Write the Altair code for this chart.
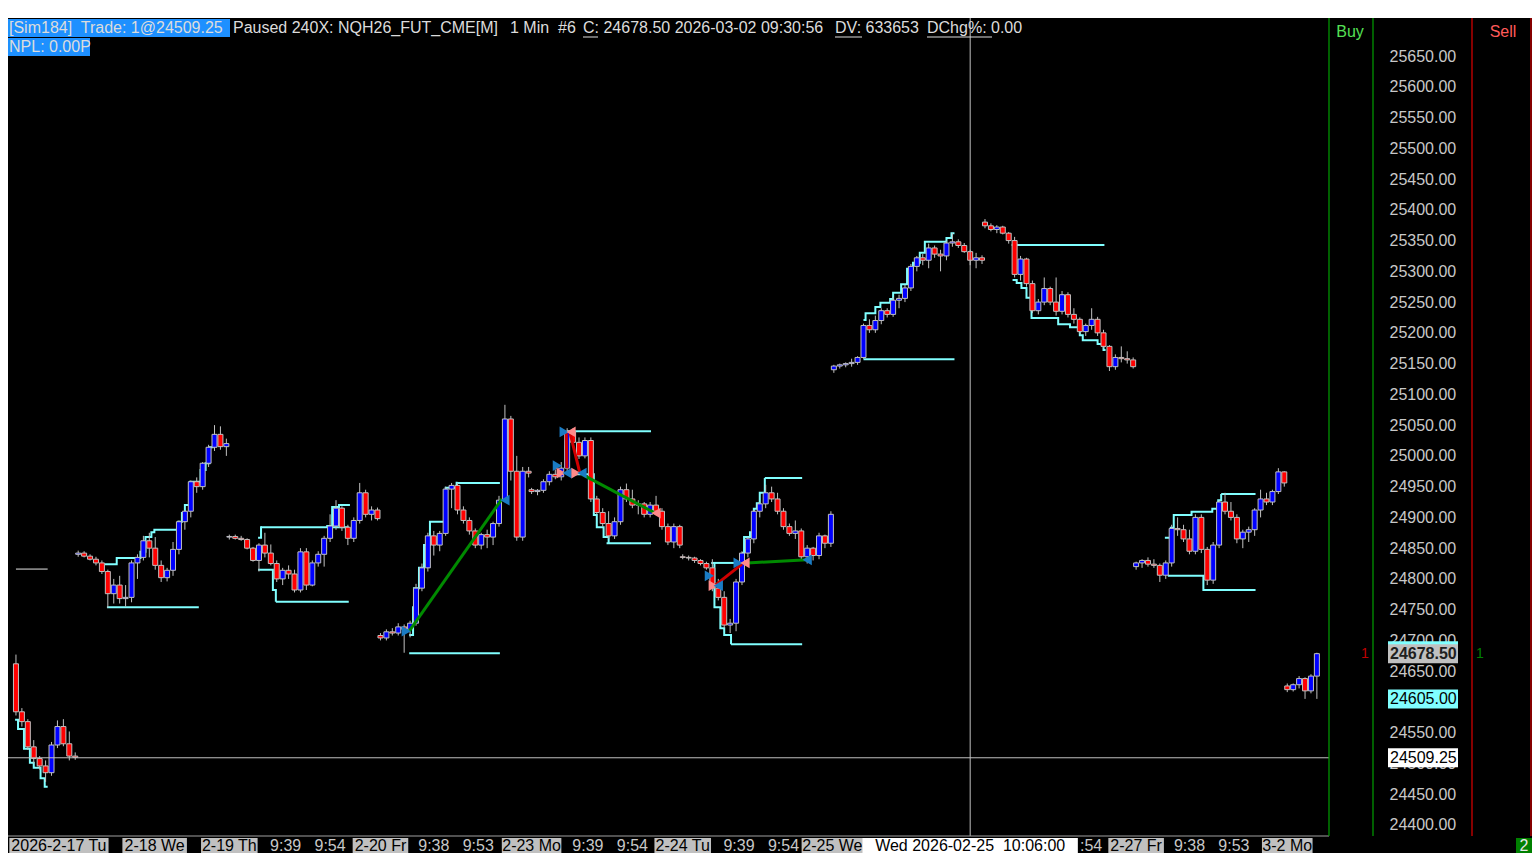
import altair as alt
import numpy as np
import pandas as pd

FONT = "Liberation Sans"

# ---------------- values ----------------
# 2-minute bars, x = minute index of the bar (3 px per minute in the reference)
session_start = [2, 23, 74, 125, 176, 227, 278, 329, 380, 431]
session_open = [24662, 24840, 24868, 24708, 24945, 24836, 25140, 25380, 24820, 24626]

s1_close = [24584, 24568, 24527, 24508, 24496, 24485, 24530, 24560, 24532, 24512, 24510]
s1_high = [24677, 24590, 24572, 24538, 24512, 24505, 24535, 24570, 24572, 24552, 24518]
s1_low = [24578, 24560, 24522, 24500, 24490, 24470, 24480, 24525, 24528, 24505, 24506]

s2_close = [24842, 24837, 24832, 24826, 24812, 24776, 24790, 24768, 24770, 24826, 24835, 24862, 24850, 24822, 24802, 24814, 24848, 24893, 24910, 24958, 24950, 24988, 25014, 25035, 25015, 25020]
s2_high = [24846, 24845, 24840, 24836, 24830, 24815, 24800, 24805, 24790, 24830, 24840, 24870, 24875, 24868, 24830, 24818, 24860, 24895, 24912, 24960, 24965, 24990, 25018, 25050, 25048, 25028]
s2_low = [24836, 24835, 24830, 24822, 24808, 24753, 24760, 24760, 24755, 24762, 24800, 24830, 24835, 24815, 24795, 24796, 24805, 24840, 24880, 24900, 24940, 24945, 24982, 25008, 25010, 25000]

s3_close = [24869, 24866, 24864, 24850, 24830, 24855, 24842, 24825, 24800, 24814, 24808, 24782, 24844, 24790, 24826, 24840, 24866, 24886, 24915, 24884, 24866, 24895, 24940, 24905, 24912, 24898]
s3_high = [24872, 24872, 24870, 24866, 24852, 24858, 24875, 24856, 24830, 24818, 24822, 24815, 24850, 24850, 24830, 24845, 24870, 24905, 24928, 24918, 24888, 24900, 24956, 24945, 24918, 24916]
s3_low = [24864, 24864, 24862, 24848, 24828, 24812, 24835, 24822, 24795, 24790, 24800, 24778, 24778, 24782, 24788, 24820, 24820, 24860, 24880, 24878, 24855, 24860, 24890, 24900, 24895, 24895]

s4_close = [24704, 24714, 24712, 24722, 24718, 24728, 24785, 24818, 24870, 24855, 24874, 24946, 24952, 24912, 24895, 24878, 24855, 24872, 24868, 24890, 24928, 25060, 24975, 24868, 24975, 24972]
s4_high = [24712, 24718, 24720, 24728, 24726, 24732, 24792, 24825, 24875, 24878, 24878, 24950, 24956, 24956, 24918, 24900, 24882, 24875, 24880, 24893, 24935, 25083, 25065, 25000, 24982, 24982]
s4_low = [24700, 24700, 24708, 24708, 24680, 24705, 24724, 24780, 24812, 24838, 24845, 24870, 24915, 24905, 24890, 24872, 24850, 24848, 24850, 24855, 24885, 24925, 24960, 24862, 24862, 24965]

s5_close = [24942, 24944, 24958, 24970, 24966, 24980, 25040, 25022, 25000, 25025, 24930, 24908, 24890, 24870, 24893, 24945, 24930, 24920, 24922, 24905, 24920, 24910, 24885, 24860, 24885, 24855]
s5_high = [24948, 24946, 24962, 24975, 24978, 24990, 25045, 25045, 25030, 25030, 25030, 24935, 24915, 24910, 24900, 24950, 24955, 24945, 24928, 24925, 24925, 24935, 24915, 24890, 24890, 24888]
s5_low = [24938, 24936, 24940, 24952, 24962, 24960, 24975, 25015, 24995, 24996, 24925, 24905, 24885, 24865, 24865, 24888, 24925, 24915, 24905, 24900, 24900, 24905, 24880, 24855, 24850, 24850]

s6_close = [24835, 24834, 24830, 24825, 24818, 24785, 24770, 24725, 24728, 24795, 24842, 24865, 24910, 24922, 24940, 24930, 24910, 24885, 24874, 24878, 24836, 24850, 24838, 24870, 24858, 24905]
s6_high = [24840, 24838, 24836, 24832, 24828, 24832, 24800, 24780, 24735, 24800, 24845, 24868, 24912, 24925, 24953, 24950, 24940, 24915, 24890, 24895, 24882, 24855, 24852, 24875, 24872, 24910]
s6_low = [24832, 24830, 24826, 24822, 24815, 24780, 24765, 24720, 24712, 24715, 24790, 24835, 24858, 24900, 24915, 24925, 24905, 24880, 24870, 24865, 24830, 24825, 24830, 24832, 24850, 24852]

s7_close = [25146, 25148, 25150, 25152, 25160, 25212, 25205, 25220, 25236, 25230, 25253, 25256, 25273, 25308, 25322, 25318, 25338, 25328, 25325, 25346, 25348, 25342, 25332, 25318, 25322, 25318]
s7_high = [25148, 25150, 25152, 25158, 25162, 25215, 25222, 25228, 25240, 25240, 25258, 25262, 25278, 25312, 25325, 25328, 25345, 25342, 25335, 25350, 25362, 25352, 25346, 25335, 25330, 25326]
s7_low = [25135, 25142, 25144, 25145, 25148, 25158, 25200, 25200, 25214, 25225, 25226, 25240, 25250, 25268, 25300, 25310, 25305, 25322, 25300, 25318, 25340, 25338, 25330, 25310, 25305, 25312]

s8_close = [25374, 25368, 25372, 25362, 25350, 25295, 25320, 25280, 25236, 25250, 25272, 25250, 25235, 25262, 25230, 25222, 25202, 25212, 25222, 25200, 25178, 25145, 25160, 25158, 25156, 25145]
s8_high = [25385, 25378, 25375, 25374, 25364, 25356, 25325, 25322, 25285, 25255, 25290, 25275, 25290, 25268, 25266, 25240, 25225, 25215, 25240, 25226, 25205, 25180, 25165, 25178, 25170, 25160]
s8_low = [25370, 25365, 25362, 25360, 25345, 25290, 25285, 25275, 25232, 25230, 25245, 25245, 25228, 25230, 25225, 25215, 25198, 25195, 25205, 25195, 25175, 25138, 25140, 25152, 25150, 25142]

s9_close = [24826, 24830, 24824, 24822, 24806, 24826, 24882, 24880, 24865, 24845, 24900, 24848, 24798, 24855, 24925, 24910, 24900, 24865, 24876, 24880, 24912, 24930, 24925, 24942, 24974, 24956]
s9_high = [24828, 24832, 24835, 24832, 24825, 24830, 24888, 24900, 24888, 24880, 24905, 24905, 24852, 24860, 24928, 24940, 24925, 24905, 24880, 24885, 24915, 24945, 24940, 24945, 24980, 24975]
s9_low = [24815, 24818, 24820, 24818, 24795, 24800, 24820, 24870, 24860, 24840, 24840, 24842, 24790, 24792, 24850, 24905, 24895, 24858, 24850, 24860, 24870, 24900, 24920, 24920, 24938, 24950]

s10_close = [24620, 24628, 24638, 24618, 24642, 24678.5]
s10_high = [24630, 24630, 24642, 24640, 24645, 24680]
s10_low = [24616, 24617, 24622, 24605, 24614, 24605]

# horizontal stop / range levels (cyan)
level_t1 = [32.7, 84.7, 89.7, 134.7, 150.7, 188, 201.3, 243.3, 254.7, 236.7, 288, 338, 408.7]
level_t2 = [63.7, 114.3, 114.3, 165.3, 165.3, 216.3, 216.3, 267.3, 267.3, 247, 318.7, 369.3, 420.3]
level_price = [24754, 24884, 24763, 24679, 24956, 25040, 24858, 24694, 24964, 24826, 25157, 25343, 24938]
prior_level = [2, 12.7, 24816]

# trailing step lines (cyan)
trail_s1_t = [1.7, 2.7, 4.7, 6.7, 8, 10.3, 11.7, 12.7]
trail_s1_p = [24571, 24556, 24524, 24501, 24493, 24476, 24462, 24462]
trail_s2_t = [32, 36, 44, 45.7, 47.7, 48.7, 56.7, 58, 59, 60.7, 64.3, 66, 67.3, 68.7]
trail_s2_p = [24824, 24834, 24844, 24868, 24876, 24880, 24893, 24907, 24920, 24958, 24977, 24988, 25014, 25014]
trail_s3a_t = [83.7, 88.7, 89.7]
trail_s3a_p = [24815, 24782, 24763]
trail_s3b_t = [83.7, 84.7, 85]
trail_s3b_p = [24867, 24884, 24884]
trail_s3c_t = [106.7, 108.7, 111, 114.7]
trail_s3c_p = [24886, 24917, 24920, 24920]
trail_s4_t = [134.7, 136, 136.3, 138, 139.7, 141.7, 147, 150.7]
trail_s4_p = [24709, 24754, 24785, 24818, 24855, 24893, 24948, 24958]
trail_s5_t = [189.7, 197, 198, 200.3, 202]
trail_s5_p = [24970, 24904, 24884, 24868, 24858]
trail_s6a_t = [236.7, 237.7, 239.7, 241, 243.3]
trail_s6a_p = [24826, 24754, 24720, 24709, 24694]
trail_s6b_t = [247, 247.7, 249.7, 251, 252, 253, 254.7]
trail_s6b_p = [24842, 24868, 24876, 24914, 24923, 24940, 24964]
trail_s7_t = [288, 288.7, 292, 293.7, 297, 298, 300.7, 302.7, 304.7, 307, 308.7, 316, 317.7, 318.7]
trail_s7_p = [25221, 25232, 25242, 25249, 25255, 25265, 25279, 25304, 25314, 25330, 25348, 25354, 25362, 25362]
trail_s8_t = [338.3, 339.7, 341.3, 343, 344.7, 353.7, 357.7, 361, 362, 367, 369, 369.7]
trail_s8_p = [25286, 25281, 25273, 25257, 25224, 25214, 25209, 25196, 25188, 25182, 25172, 25172]
trail_s9a_t = [389.7, 391.7, 392.7, 398.7, 405.7, 407.7, 408.7]
trail_s9a_p = [24867, 24883, 24904, 24909, 24914, 24928, 24938]
trail_s9b_t = [390.7, 402.7, 420.3]
trail_s9b_p = [24805, 24782, 24782]

# executed trades: connecting lines and markers
trade_t1 = [134.7, 187.7, 189, 193, 238, 248.7]
trade_p1 = [24715, 25037, 25037, 24970, 24790, 24826]
trade_t2 = [166, 187.9, 192.3, 217.7, 247, 269]
trade_p2 = [24930, 24980, 24972, 24907, 24824, 24831]
trade_win = [True, False, False, True, False, True]

marker_t = [133.7, 167, 187, 189.3, 184.7, 186, 188, 191, 193, 218, 236, 237.3, 239, 245.7, 248, 269]
marker_p = [24715, 24928, 25039, 25039, 24984, 24972, 24972, 24972, 24972, 24907, 24805, 24789, 24789, 24826, 24826, 24831]
marker_dir = ["R", "L", "R", "L", "R", "R", "L", "R", "L", "L", "R", "R", "L", "R", "L", "L"]
marker_side = ["B", "B", "B", "S", "B", "S", "B", "S", "B", "S", "B", "S", "B", "B", "S", "B"]

# axes / labels (labels hidden under the crosshair box / price boxes are left out)
price_ticks = [p for p in range(24400, 25651, 50) if p != 24600]
x_labels = ["2026-2-17 Tu", "2-18 We", "2-19 Th", "9:39", "9:54", "2-20 Fr", "9:38", "9:53",
            "2-23 Mo", "9:39", "9:54", "2-24 Tu", "9:39", "9:54", "2-25 We", ":54",
            "2-27 Fr", "9:38", "9:53", "3-2 Mo"]
x_label_t = [16.5, 48.8, 74, 93, 108, 125, 143, 158, 176, 195, 210, 227, 246, 261, 277.5, 364.8,
             380, 398, 413, 431]
cross_t = 324
cross_price = 24509.25
cross_label = "Wed 2026-02-25\u00a0\u00a010:06:00"
last_price = 24678.50
stop_price = 24605.00
trade_price = 24509.25

header_1a = "[Sim184]\u00a0 Trade: 1@24509.25"
header_1b = "Paused 240X: NQH26_FUT_CME[M]"
header_1c = "1 Min\u00a0 #6"
header_1d = "C: 24678.50 2026-03-02 09:30:56"
header_1e = "DV: 633653"
header_1f = "DChg%: 0.00"
header_2 = "NPL: 0.00P"

# ---------------- styling / layout ----------------
W, H = 1321, 818
YMIN, YMAX = 24382.1, 25711.8
PTS_PER_PX = (YMAX - YMIN) / H
CYAN = "#80ffff"
GRAY = "#c0c0c0"
TXT = "#dcdcdc"
date_box_px = {"2026-2-17 Tu": 100, "2-18 We": 65, "2-19 Th": 57, "2-20 Fr": 56, "2-23 Mo": 60,
               "2-24 Tu": 57, "2-25 We": 62, "2-26 Th": 57, "2-27 Fr": 56, "3-2 Mo": 51}
PX_PER_T = W / (443.4 - 1)

xsc = alt.Scale(domain=[1, 443.4], nice=False, zero=False)
ysc = alt.Scale(domain=[YMIN, YMAX], nice=False, zero=False)
yaxis = alt.Axis(orient="right", values=price_ticks, format=".2f", offset=60, labelPadding=0,
                 ticks=False, domain=False, grid=False, labelAlign="left", labelBaseline="middle",
                 labelFontSize=16, labelColor="#c8c8c8", labelFont=FONT, title=None,
                 labelOverlap=False, labelBound=False)


def X(f):
    return alt.X(f, type="quantitative", scale=xsc, axis=None)


def Y(f):
    return alt.Y(f, type="quantitative", scale=ysc, axis=yaxis)


# ---------------- tables ----------------
closes = [s1_close, s2_close, s3_close, s4_close, s5_close, s6_close, s7_close, s8_close, s9_close, s10_close]
highs = [s1_high, s2_high, s3_high, s4_high, s5_high, s6_high, s7_high, s8_high, s9_high, s10_high]
lows = [s1_low, s2_low, s3_low, s4_low, s5_low, s6_low, s7_low, s8_low, s9_low, s10_low]
rows = []
for start, o0, cl, hi, lo in zip(session_start, session_open, closes, highs, lows):
    prev = o0
    for k, (c, h, l) in enumerate(zip(cl, hi, lo)):
        rows.append(dict(t=start + 2 * k, o=prev, h=h, l=l, c=c))
        prev = c
candles = pd.DataFrame(rows)
candles["col"] = np.where(candles.c >= candles.o, "#0000ff", "#ff0000")

levels = pd.DataFrame({"t1": level_t1, "t2": level_t2, "p": level_price})
prior = pd.DataFrame({"t1": [prior_level[0]], "t2": [prior_level[1]], "p": [prior_level[2]]})

trail_list = [(trail_s1_t, trail_s1_p), (trail_s2_t, trail_s2_p), (trail_s3a_t, trail_s3a_p),
              (trail_s3b_t, trail_s3b_p), (trail_s3c_t, trail_s3c_p), (trail_s4_t, trail_s4_p),
              (trail_s5_t, trail_s5_p), (trail_s6a_t, trail_s6a_p), (trail_s6b_t, trail_s6b_p),
              (trail_s7_t, trail_s7_p), (trail_s8_t, trail_s8_p), (trail_s9a_t, trail_s9a_p),
              (trail_s9b_t, trail_s9b_p)]
trails = pd.concat([pd.DataFrame({"t": tt, "p": pp, "id": i}) for i, (tt, pp) in enumerate(trail_list)])

tlines = pd.DataFrame({"t1": trade_t1, "p1": trade_p1, "t2": trade_t2, "p2": trade_p2})
tlines["col"] = np.where(trade_win, "#008a00", "#d00000")

marks = pd.DataFrame({"t": marker_t, "p": marker_p})
marks["shape"] = ["triangle-right" if d == "R" else "triangle-left" for d in marker_dir]
marks["col"] = ["#1a7cc4" if s == "B" else "#ff8a8a" for s in marker_side]

xl = pd.DataFrame({"txt": x_labels, "t": x_label_t})
xl["is_date"] = xl.txt.str.contains("-")
dates = xl[xl.is_date].copy()
dates["w"] = dates.txt.map(date_box_px)
dates["t1"] = dates.t - dates.w / 2 / PX_PER_T
dates["t2"] = dates.t + dates.w / 2 / PX_PER_T
times = xl[~xl.is_date]

cross_df = pd.DataFrame({"t": [cross_t], "txt": [cross_label],
                         "t1": [cross_t - 108.5 / PX_PER_T], "t2": [cross_t + 108.5 / PX_PER_T]})

boxes = pd.DataFrame({"p": [last_price, stop_price, trade_price],
                      "fill": [GRAY, CYAN, "#ffffff"],
                      "txt": ["24678.50", "24605.00", "24509.25"]})
boxes["top"] = boxes.p + 9.5 * PTS_PER_PX
boxes["bot"] = boxes.p - 9.5 * PTS_PER_PX
strip = pd.DataFrame({"top": [last_price + 12.5 * PTS_PER_PX], "bot": [last_price + 6 * PTS_PER_PX]})

one = pd.DataFrame({"k": [0]})

# ---------------- layers ----------------
layers = []

# white window strip above the chart
layers.append(alt.Chart(one).mark_rect(color="#ffffff").encode(
    x=alt.value(0), x2=alt.value(1524), y=alt.value(-10), y2=alt.value(0)))

# cyan levels and trailing steps
layers.append(alt.Chart(prior).mark_rule(color="#e6e6e6", strokeWidth=1, clip=True).encode(
    x=X("t1"), x2=alt.X2("t2"), y=Y("p")))
layers.append(alt.Chart(levels).mark_rule(color=CYAN, strokeWidth=2, clip=True).encode(
    x=X("t1"), x2=alt.X2("t2"), y=Y("p")))
layers.append(alt.Chart(trails).mark_line(interpolate="step-after", color=CYAN, strokeWidth=2,
                                          clip=True).encode(x=X("t"), y=Y("p"), detail="id:N"))

# candles
layers.append(alt.Chart(candles).mark_rule(color=GRAY, strokeWidth=1, clip=True).encode(
    x=X("t"), y=Y("l"), y2=alt.Y2("h")))
layers.append(alt.Chart(candles).mark_bar(width=5, stroke=GRAY, strokeWidth=1, clip=True).encode(
    x=X("t"), y=Y("o"), y2=alt.Y2("c"), fill=alt.Fill("col:N", scale=None)))

# trades
layers.append(alt.Chart(tlines).mark_rule(strokeWidth=3, clip=True).encode(
    x=X("t1"), x2=alt.X2("t2"), y=Y("p1"), y2=alt.Y2("p2"), color=alt.Color("col:N", scale=None)))
layers.append(alt.Chart(marks).mark_point(filled=True, size=115, opacity=1, clip=True).encode(
    x=X("t"), y=Y("p"), shape=alt.Shape("shape:N", scale=None), color=alt.Color("col:N", scale=None)))

# crosshair
layers.append(alt.Chart(cross_df).mark_rule(color=GRAY, strokeWidth=1).encode(
    x=X("t"), y=alt.value(0), y2=alt.value(H)))
layers.append(alt.Chart(pd.DataFrame({"p": [cross_price]})).mark_rule(color=GRAY, strokeWidth=1).encode(
    y=Y("p"), x=alt.value(0), x2=alt.value(W)))

# header
layers.append(alt.Chart(one).mark_rect(color="#1e90ff").encode(
    x=alt.value(0), x2=alt.value(222), y=alt.value(1), y2=alt.value(19)))
layers.append(alt.Chart(one).mark_rect(color="#1e90ff").encode(
    x=alt.value(0), x2=alt.value(82), y=alt.value(20), y2=alt.value(38)))
for txt, xpos, ypos in [(header_1a, 1, 10), (header_1b, 225, 10), (header_1c, 502, 10),
                        (header_1d, 575, 10), (header_1e, 827, 10), (header_1f, 919, 10),
                        (header_2, 1, 29)]:
    layers.append(alt.Chart(pd.DataFrame({"txt": [txt]})).mark_text(
        align="left", baseline="middle", font=FONT, fontSize=16, color=TXT).encode(
        x=alt.value(xpos), y=alt.value(ypos), text="txt:N"))
for x1, x2 in [(575, 590), (827, 854), (919, 984)]:
    layers.append(alt.Chart(one).mark_rule(color=TXT, strokeWidth=1).encode(
        x=alt.value(x1), x2=alt.value(x2), y=alt.value(19)))

# plot frame and right-hand columns
layers.append(alt.Chart(one).mark_rule(color="#a0a0a0", strokeWidth=1).encode(
    x=alt.value(0), x2=alt.value(W), y=alt.value(H)))
for xpos, col in [(W, "#00a000"), (1365, "#00a000"), (1464, "#e00000"), (1523, "#e00000")]:
    layers.append(alt.Chart(one).mark_rule(color=col, strokeWidth=1.2).encode(
        x=alt.value(xpos), y=alt.value(0), y2=alt.value(H)))
layers.append(alt.Chart(pd.DataFrame({"txt": ["Buy"]})).mark_text(
    align="center", baseline="middle", font=FONT, fontSize=16, color="#55e055").encode(
    x=alt.value(1342), y=alt.value(14), text="txt:N"))
layers.append(alt.Chart(pd.DataFrame({"txt": ["Sell"]})).mark_text(
    align="center", baseline="middle", font=FONT, fontSize=16, color="#ff5a5a").encode(
    x=alt.value(1495), y=alt.value(14), text="txt:N"))
for xpos, col in [(1357, "#c00000"), (1472, "#008000")]:
    layers.append(alt.Chart(pd.DataFrame({"p": [last_price], "txt": ["1"]})).mark_text(
        align="center", baseline="middle", font=FONT, fontSize=14, color=col).encode(
        x=alt.value(xpos), y=Y("p"), text="txt:N"))

# price boxes on the axis
layers.append(alt.Chart(strip).mark_rect(color=CYAN).encode(
    x=alt.value(1380), x2=alt.value(1450), y=Y("top"), y2=alt.Y2("bot")))
layers.append(alt.Chart(boxes).mark_rect().encode(
    x=alt.value(1380), x2=alt.value(1450), y=Y("top"), y2=alt.Y2("bot"),
    color=alt.Color("fill:N", scale=None)))
layers.append(alt.Chart(boxes.iloc[:1]).mark_text(
    align="left", baseline="middle", font=FONT, fontSize=16, fontWeight="bold", color="#202020").encode(
    x=alt.value(1382), y=Y("p"), text="txt:N"))
layers.append(alt.Chart(boxes.iloc[1:]).mark_text(
    align="left", baseline="middle", font=FONT, fontSize=16, color="#000000").encode(
    x=alt.value(1382), y=Y("p"), text="txt:N"))

# time axis labels
layers.append(alt.Chart(dates).mark_rect(color=GRAY).encode(
    x=X("t1"), x2=alt.X2("t2"), y=alt.value(820), y2=alt.value(835)))
layers.append(alt.Chart(dates).mark_text(
    align="center", baseline="middle", font=FONT, fontSize=16, color="#000000").encode(
    x=X("t"), y=alt.value(828), text="txt:N"))
layers.append(alt.Chart(times).mark_text(
    align="center", baseline="middle", font=FONT, fontSize=16, color="#c8c8c8").encode(
    x=X("t"), y=alt.value(828), text="txt:N"))
layers.append(alt.Chart(cross_df).mark_rect(color="#ffffff").encode(
    x=X("t1"), x2=alt.X2("t2"), y=alt.value(820), y2=alt.value(835)))
layers.append(alt.Chart(cross_df).mark_text(
    align="center", baseline="middle", font=FONT, fontSize=16, color="#000000").encode(
    x=X("t"), y=alt.value(828), text="txt:N"))
layers.append(alt.Chart(one).mark_rect(color="#008000").encode(
    x=alt.value(1508), x2=alt.value(1524), y=alt.value(820), y2=alt.value(835)))
layers.append(alt.Chart(pd.DataFrame({"txt": ["2"]})).mark_text(
    align="center", baseline="middle", font=FONT, fontSize=16, color="#e8e8e8").encode(
    x=alt.value(1516), y=alt.value(828), text="txt:N"))

chart = alt.layer(*layers).properties(
    width=W, height=H, background="#000000",
    padding={"left": 0, "top": 10, "right": 203, "bottom": 17},
    autosize=alt.AutoSizeParams(type="none"),
).configure_view(stroke=None)

chart.save("out.html", embed_options={"renderer": "svg", "actions": False})
